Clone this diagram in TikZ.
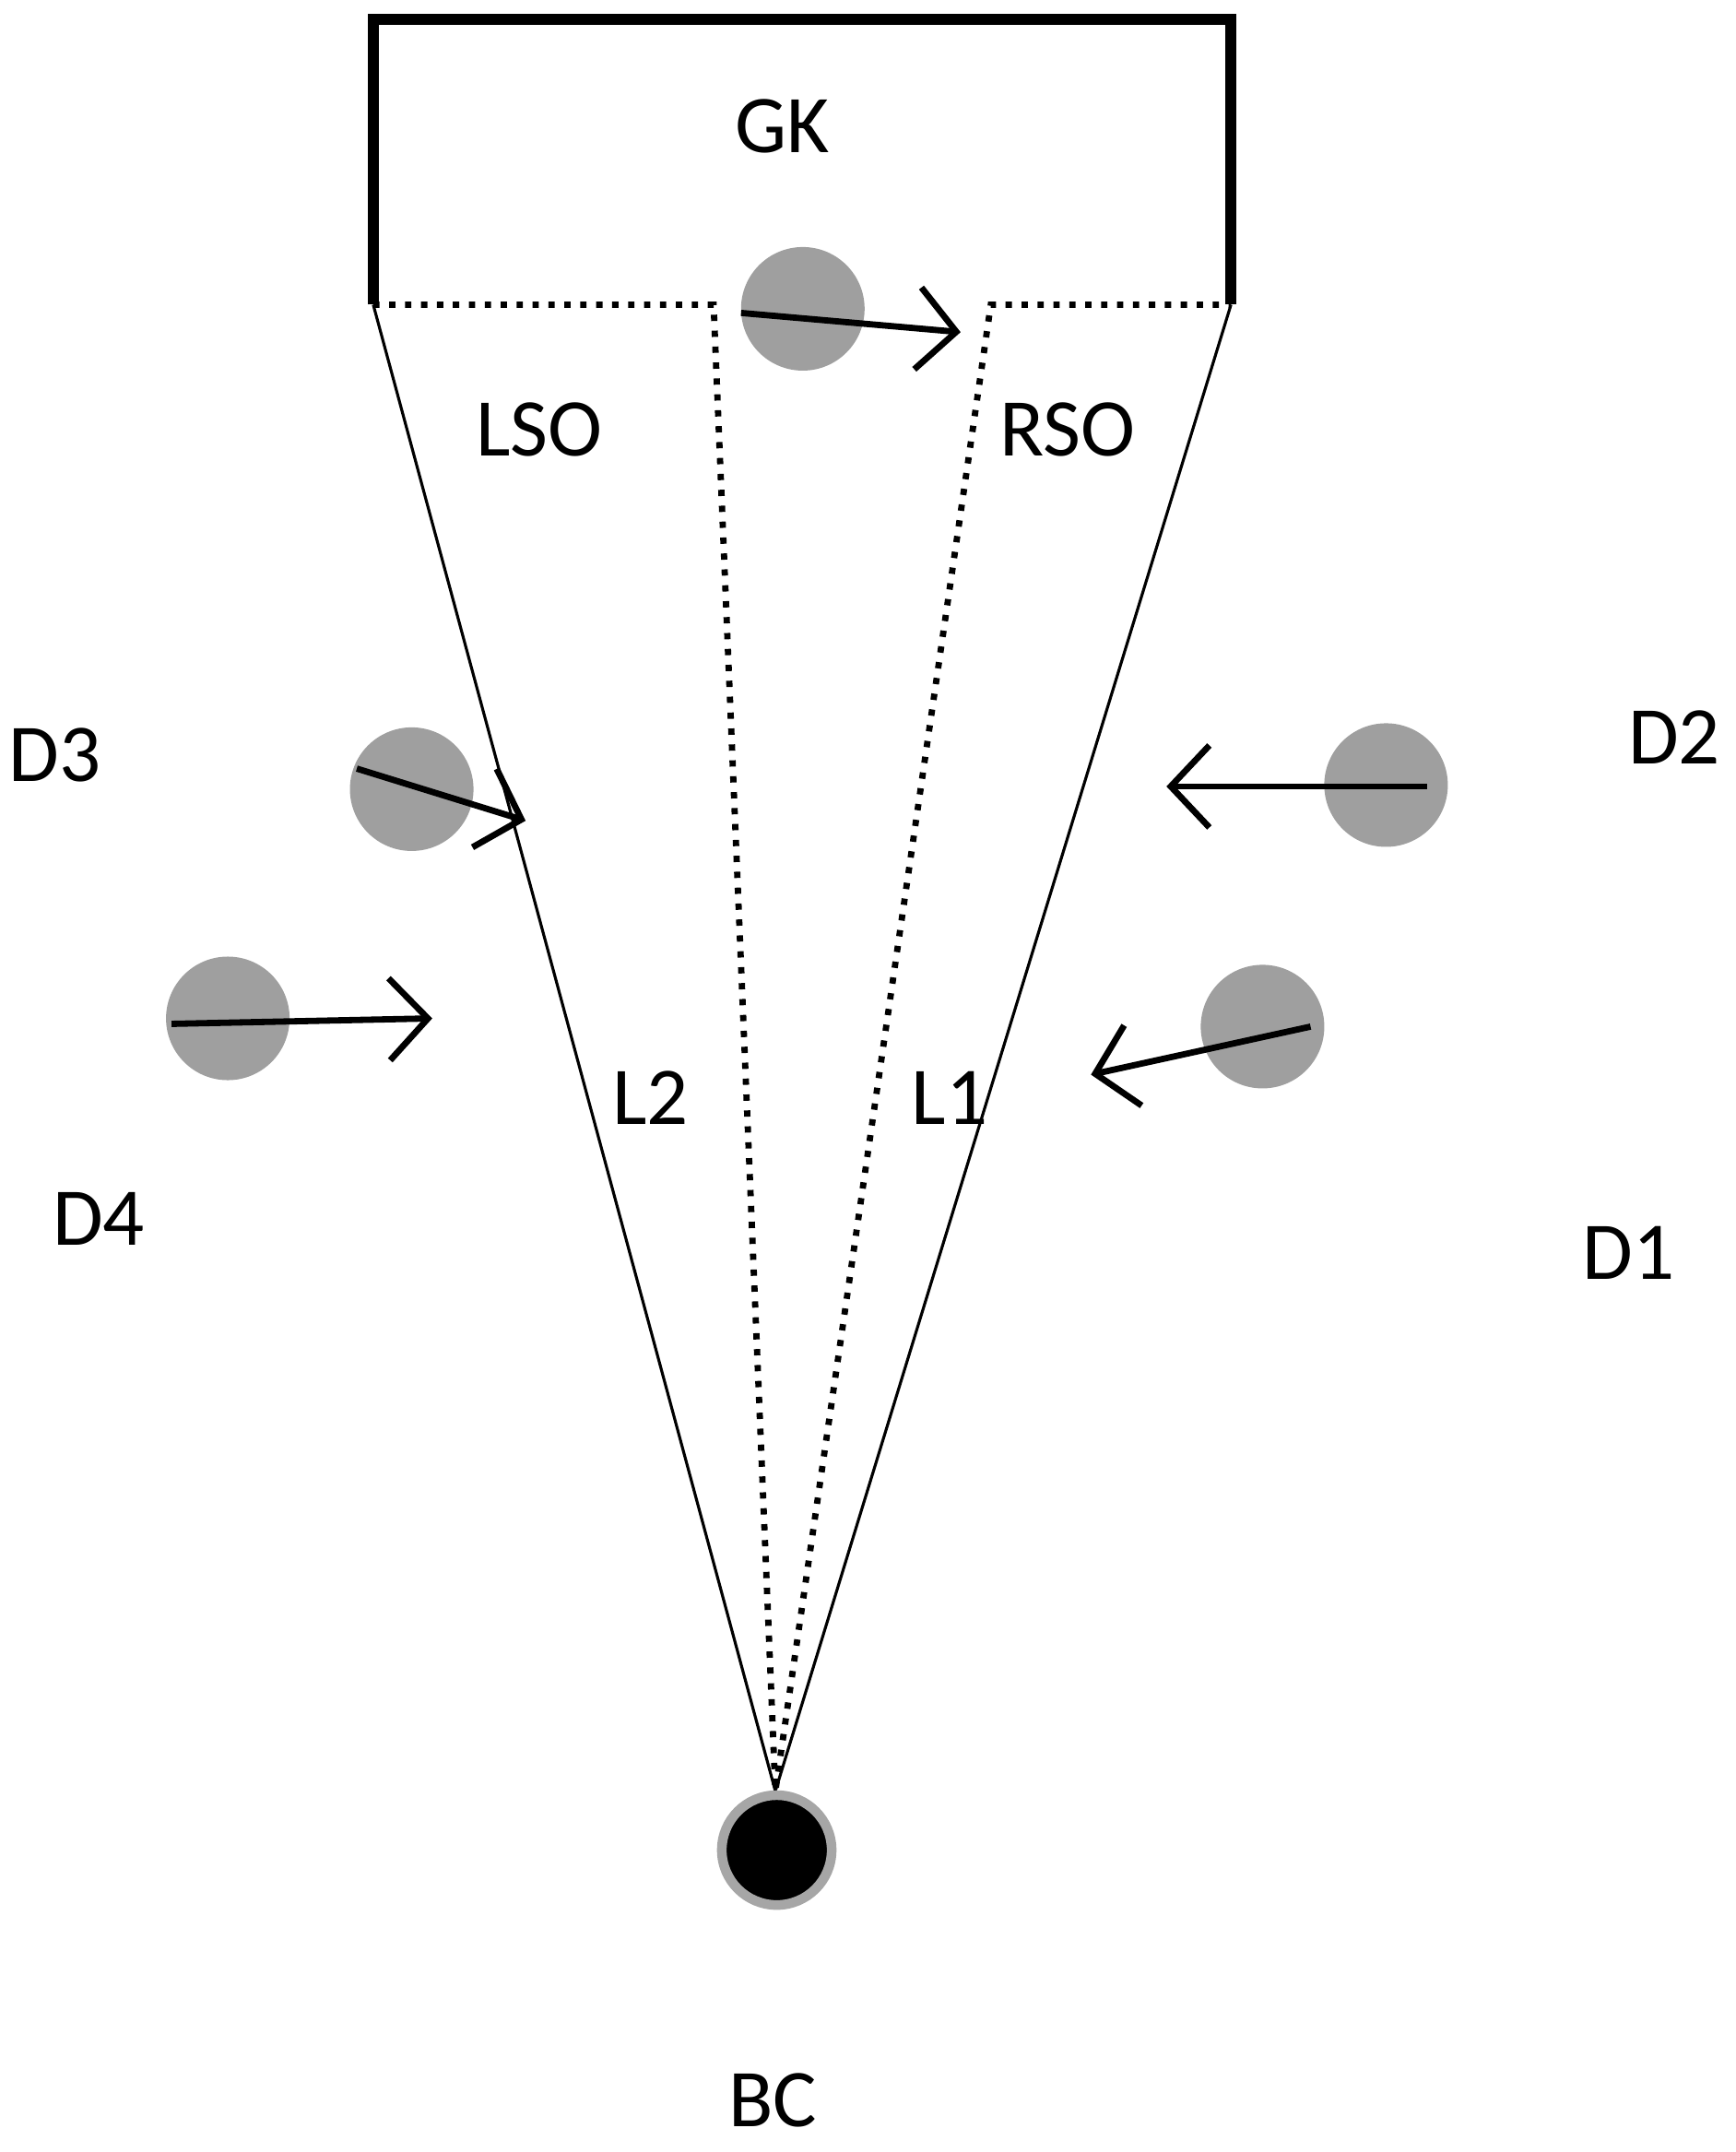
\documentclass[tikz,border=0pt]{standalone}
\usepackage{fontspec}
\setmainfont{Carlito}
\usetikzlibrary{arrows.meta}
\begin{document}
\begin{tikzpicture}[x=0.01cm,y=-0.01cm,
  player/.style={circle,fill=gray!75,minimum size=0.9cm,inner sep=0pt},
  lbl/.style={font=\fontsize{17}{20}\selectfont},
  mv/.style={line width=1.3pt,-{Straight Barb[length=8pt,width=17pt,line width=1.3pt]}},
  dots/.style={line width=1.3pt,dotted}]
\useasboundingbox (0,0) rectangle (1265,1568);
\coordinate (gl) at (272,222); \coordinate (gr) at (897,222);
\coordinate (pl) at (520,222); \coordinate (pr) at (722,222);
\coordinate (bt) at (565,1305);
\draw[line width=2.2pt] (gl) -- (272,14) -- (897,14) -- (gr);
\draw[dots] (gl) -- (pl) -- (bt) -- (pr) -- (gr);
\draw[line width=0.6pt] (gl) -- (bt) -- (gr);
\node[lbl] (gk) at (570,92) {GK};
\node[lbl] (lso) at (393,313) {LSO};
\node[lbl] (rso) at (778,313) {RSO};
\node[lbl] (l2) at (474,800) {L2};
\node[lbl] (l1) at (692,800) {L1};
\node[lbl] (d3) at (40,550) {D3};
\node[lbl] (d4) at (72,888) {D4};
\node[lbl] (d2) at (1220,537) {D2};
\node[lbl] (d1) at (1187,913) {D1};
\node[lbl] (bc) at (563,1530) {BC};
\node[player] (pgk) at (585,225) {};
\node[player] (p3) at (300,575) {};
\node[player] (p4) at (166,742) {};
\node[player] (p2) at (1010,572) {};
\node[player] (p1) at (920,748) {};
\node[circle,fill=black,draw=gray!70,line width=2pt,minimum size=0.8cm] (ball) at (566,1348) {};
\coordinate (a0) at (540,228); \coordinate (a1) at (700,242);
\draw[mv] (a0) -- (a1);
\coordinate (b0) at (260,560); \coordinate (b1) at (383,598);
\draw[mv] (b0) -- (b1);
\coordinate (c0) at (125,746); \coordinate (c1) at (315,742);
\draw[mv] (c0) -- (c1);
\coordinate (e0) at (1040,573); \coordinate (e1) at (850,573);
\draw[mv] (e0) -- (e1);
\coordinate (f0) at (955,748); \coordinate (f1) at (795,783);
\draw[mv] (f0) -- (f1);
\end{tikzpicture}
\end{document}
